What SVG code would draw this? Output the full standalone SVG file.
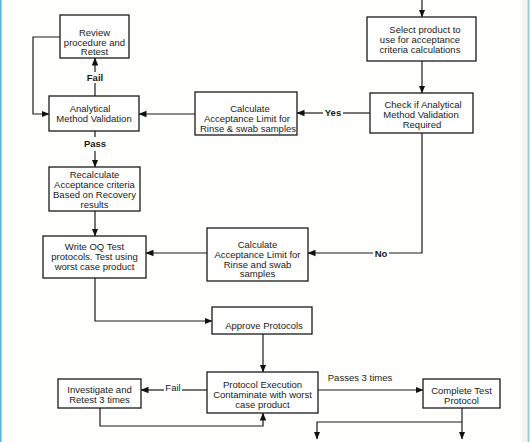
<svg xmlns="http://www.w3.org/2000/svg" width="530" height="442" viewBox="0 0 530 442">
<defs>
<marker id="ah" markerUnits="userSpaceOnUse" markerWidth="8" markerHeight="8" viewBox="0 0 8 8" refX="7.5" refY="4" orient="auto">
<path d="M0,0.8 L8,4 L0,7.2 Z" fill="#111"/>
</marker>
<style>
.box{fill:#fff;stroke:#1a1a1a;stroke-width:1.3}
.t{font-family:"Liberation Sans",Arial,sans-serif;font-size:9.5px;fill:#1a1a1a;text-anchor:middle}
.lb{font-weight:bold}
.c{fill:none;stroke:#1a1a1a;stroke-width:1.2}
</style>
</defs>
<rect x="0" y="0" width="530" height="442" fill="#fefefc"/>
<rect x="522" y="0" width="6" height="442" fill="#f4f4f4"/>
<rect x="0" y="0" width="1.6" height="442" fill="#5fb6c9"/>
<rect x="527.6" y="0" width="1.8" height="442" fill="#8fcdd3"/>

<g id="connectors">
<path class="c" d="M422,0 V17" marker-end="url(#ah)"/>
<path class="c" d="M422,61 V93" marker-end="url(#ah)"/>
<path class="c" d="M370,113 H343"/>
<path class="c" d="M323,113 H297" marker-end="url(#ah)"/>
<path class="c" d="M195,114 H139" marker-end="url(#ah)"/>
<path class="c" d="M95,96 V83"/>
<path class="c" d="M95,72 V58" marker-end="url(#ah)"/>
<path class="c" d="M60,37 H33 V114 H49" marker-end="url(#ah)"/>
<path class="c" d="M95,131 V137"/>
<path class="c" d="M95,151 V167" marker-end="url(#ah)"/>
<path class="c" d="M95,211 V236" marker-end="url(#ah)"/>
<path class="c" d="M422,133 V253 H389"/>
<path class="c" d="M373,253 H308" marker-end="url(#ah)"/>
<path class="c" d="M207,253 H146" marker-end="url(#ah)"/>
<path class="c" d="M95,278 V321 H212" marker-end="url(#ah)"/>
<path class="c" d="M263,334 V372" marker-end="url(#ah)"/>
<path class="c" d="M207,390 H182"/>
<path class="c" d="M164,390 H141" marker-end="url(#ah)"/>
<path class="c" d="M100,408 V426 H263 V413" marker-end="url(#ah)"/>
<path class="c" d="M318,390 H423" marker-end="url(#ah)"/>
<path class="c" d="M462,408 V439" marker-end="url(#ah)"/>
<path class="c" d="M462,422 H317 V439" marker-end="url(#ah)"/>
<text class="t lb" x="95" y="81">Fail</text>
<text class="t lb" x="95" y="147">Pass</text>
<text class="t lb" x="333" y="116">Yes</text>
<text class="t lb" x="381" y="257">No</text>
<text class="t" x="173" y="391">Fail</text>
<text class="t" x="360" y="381">Passes 3 times</text>
</g>

<g id="review">
<rect class="box" x="60" y="15" width="69" height="43"/>
<text class="t" x="94.5" y="36">Review</text>
<text class="t" x="94.5" y="45.5">procedure and</text>
<text class="t" x="94.5" y="55">Retest</text>
</g>

<g id="analytical">
<rect class="box" x="49" y="96" width="90" height="35"/>
<text class="t" x="90" y="112">Analytical</text>
<text class="t" x="94" y="122">Method Validation</text>
</g>

<g id="calc1">
<rect class="box" x="195" y="92" width="102" height="43"/>
<text class="t" x="250" y="112">Calculate</text>
<text class="t" x="247" y="122">Acceptance Limit for</text>
<text class="t" x="248" y="131.5">Rinse &amp; swab samples</text>
</g>

<g id="select">
<rect class="box" x="367" y="17" width="109" height="44"/>
<text class="t" x="425" y="33">Select product to</text>
<text class="t" x="420" y="43">use for acceptance</text>
<text class="t" x="420" y="53">criteria calculations</text>
</g>

<g id="check">
<rect class="box" x="370" y="93" width="103" height="40"/>
<text class="t" x="423" y="108">Check if Analytical</text>
<text class="t" x="421" y="118">Method Validation</text>
<text class="t" x="422" y="127.5">Required</text>
</g>

<g id="recalc">
<rect class="box" x="49" y="167" width="91" height="44"/>
<text class="t" x="94.5" y="178">Recalculate</text>
<text class="t" x="94.5" y="188">Acceptance criteria</text>
<text class="t" x="94.5" y="198">Based on Recovery</text>
<text class="t" x="94.5" y="207.5">results</text>
</g>

<g id="writeoq">
<rect class="box" x="43" y="236" width="103" height="42"/>
<text class="t" x="94.5" y="250">Write OQ Test</text>
<text class="t" x="94.5" y="259.5">protocols. Test using</text>
<text class="t" x="94.5" y="269.5">worst case product</text>
</g>

<g id="calc2">
<rect class="box" x="207" y="228" width="101" height="53"/>
<text class="t" x="257.5" y="248">Calculate</text>
<text class="t" x="257.5" y="258">Acceptance Limit for</text>
<text class="t" x="257.5" y="267.5">Rinse and swab</text>
<text class="t" x="257.5" y="277">samples</text>
</g>

<g id="approve">
<rect class="box" x="212" y="307" width="100" height="27"/>
<text class="t" x="264" y="329">Approve Protocols</text>
</g>

<g id="execution">
<rect class="box" x="207" y="372" width="111" height="41"/>
<text class="t" x="262.5" y="388">Protocol Execution</text>
<text class="t" x="262.5" y="398">Contaminate with worst</text>
<text class="t" x="262.5" y="408">case product</text>
</g>

<g id="investigate">
<rect class="box" x="58" y="379" width="83" height="29"/>
<text class="t" x="99.5" y="393">Investigate and</text>
<text class="t" x="99.5" y="402.5">Retest 3 times</text>
</g>

<g id="complete">
<rect class="box" x="423" y="379" width="77" height="29"/>
<text class="t" x="461.5" y="394">Complete Test</text>
<text class="t" x="461.5" y="404">Protocol</text>
</g>
</svg>
